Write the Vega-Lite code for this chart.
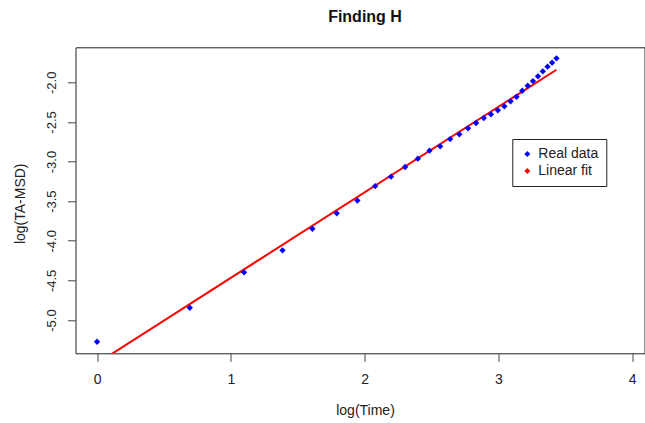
{
  "$schema": "https://vega.github.io/schema/vega-lite/v6.json",
  "width": 569,
  "height": 306,
  "autosize": {"type": "none"},
  "padding": {"left": 75.5, "top": 47.3, "right": 0.5, "bottom": 69.7},
  "background": "white",
  "config": {
    "view": {"stroke": "#222", "strokeWidth": 1},
    "font": "Liberation Sans",
    "axis": {"grid": false, "domain": false, "tickColor": "#444", "tickSize": 8, "tickWidth": 1, "labelColor": "#222", "titleColor": "#222", "labelFont": "Liberation Sans", "titleFont": "Liberation Sans", "titleFontWeight": "normal"}
  },
  "title": {"text": "Finding H", "anchor": "middle", "dx": 5, "offset": 22, "fontSize": 16, "fontWeight": "bold", "font": "Liberation Sans", "color": "#111"},
  "datasets": {
    "real": [
      {"logTime": 0.0, "logMSD": -5.274, "series": "Real data"},
      {"logTime": 0.6931, "logMSD": -4.845, "series": "Real data"},
      {"logTime": 1.0986, "logMSD": -4.398, "series": "Real data"},
      {"logTime": 1.3863, "logMSD": -4.120, "series": "Real data"},
      {"logTime": 1.6094, "logMSD": -3.848, "series": "Real data"},
      {"logTime": 1.7918, "logMSD": -3.653, "series": "Real data"},
      {"logTime": 1.9459, "logMSD": -3.492, "series": "Real data"},
      {"logTime": 2.0794, "logMSD": -3.309, "series": "Real data"},
      {"logTime": 2.1972, "logMSD": -3.191, "series": "Real data"},
      {"logTime": 2.3026, "logMSD": -3.069, "series": "Real data"},
      {"logTime": 2.3979, "logMSD": -2.964, "series": "Real data"},
      {"logTime": 2.4849, "logMSD": -2.863, "series": "Real data"},
      {"logTime": 2.5649, "logMSD": -2.808, "series": "Real data"},
      {"logTime": 2.6391, "logMSD": -2.716, "series": "Real data"},
      {"logTime": 2.7081, "logMSD": -2.656, "series": "Real data"},
      {"logTime": 2.7726, "logMSD": -2.580, "series": "Real data"},
      {"logTime": 2.8332, "logMSD": -2.513, "series": "Real data"},
      {"logTime": 2.8904, "logMSD": -2.450, "series": "Real data"},
      {"logTime": 2.9444, "logMSD": -2.404, "series": "Real data"},
      {"logTime": 2.9957, "logMSD": -2.354, "series": "Real data"},
      {"logTime": 3.0445, "logMSD": -2.303, "series": "Real data"},
      {"logTime": 3.0910, "logMSD": -2.240, "series": "Real data"},
      {"logTime": 3.1355, "logMSD": -2.182, "series": "Real data"},
      {"logTime": 3.1781, "logMSD": -2.106, "series": "Real data"},
      {"logTime": 3.2189, "logMSD": -2.043, "series": "Real data"},
      {"logTime": 3.2581, "logMSD": -1.984, "series": "Real data"},
      {"logTime": 3.2958, "logMSD": -1.924, "series": "Real data"},
      {"logTime": 3.3322, "logMSD": -1.861, "series": "Real data"},
      {"logTime": 3.3673, "logMSD": -1.803, "series": "Real data"},
      {"logTime": 3.4012, "logMSD": -1.752, "series": "Real data"},
      {"logTime": 3.4340, "logMSD": -1.697, "series": "Real data"}
    ],
    "fit": [
      {"logTime": 0.0, "logMSD": -5.547, "series": "Linear fit"},
      {"logTime": 3.4340, "logMSD": -1.841, "series": "Linear fit"}
    ]
  },
  "layer": [
    {
      "data": {"name": "fit"},
      "mark": {"type": "line", "color": "#FF0000", "strokeWidth": 2, "clip": true},
      "encoding": {
        "x": {"field": "logTime", "type": "quantitative", "scale": {"domain": [-0.161, 4.092], "nice": false, "zero": false},
              "axis": {"values": [0, 1, 2, 3, 4], "format": "d", "title": "log(Time)", "labelFontSize": 14, "titleFontSize": 14, "labelBaseline": "middle", "labelPadding": 18, "titleX": 289.5, "titleY": 56.7, "titleBaseline": "middle", "titleAlign": "center"}},
        "y": {"field": "logMSD", "type": "quantitative", "scale": {"domain": [-5.42, -1.558], "nice": false, "zero": false},
              "axis": {"values": [-5, -4.5, -4, -3.5, -3, -2.5, -2], "labelExpr": "replace(format(datum.value, '.1f'), '\u2212', '-')", "labelAngle": 270, "labelAlign": "center", "labelBaseline": "middle", "labelPadding": 16, "labelFontSize": 13, "title": "log(TA-MSD)", "titleFontSize": 14, "titleAngle": 270, "titleX": -55, "titleY": 156, "titleAlign": "center", "titleBaseline": "middle"}}
      }
    },
    {
      "data": {"name": "real"},
      "mark": {"type": "point", "shape": "diamond", "filled": true, "size": 40, "opacity": 1, "clip": true},
      "encoding": {
        "x": {"field": "logTime", "type": "quantitative"},
        "y": {"field": "logMSD", "type": "quantitative"},
        "color": {"field": "series", "type": "nominal",
                  "scale": {"domain": ["Real data", "Linear fit"], "range": ["#0000FF", "#FF0000"]},
                  "legend": {"title": null, "orient": "none", "legendX": 436.8, "legendY": 91.7, "strokeColor": "#222", "fillColor": "white", "padding": 8, "rowPadding": 3, "symbolType": "diamond", "symbolSize": 36, "symbolStrokeWidth": 0, "labelFontSize": 14, "labelFont": "Liberation Sans", "labelColor": "#222", "labelOffset": 4, "symbolOpacity": 1}}
      }
    }
  ]
}
